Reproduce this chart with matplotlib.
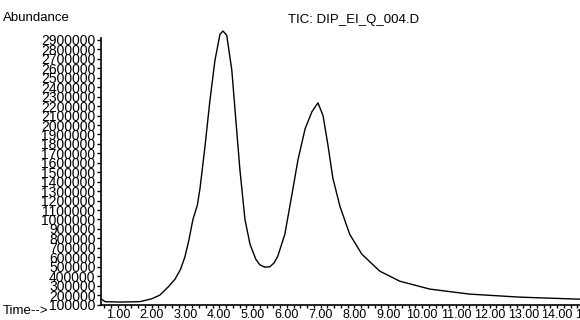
import numpy as np
import matplotlib.pyplot as plt
from matplotlib.ticker import MultipleLocator, FixedLocator

plt.rcParams['font.family'] = ['Liberation Sans', 'DejaVu Sans']

# TIC trace (time in min, abundance in counts)
time = [0.50, 0.62, 1.06, 1.65, 2.00, 2.24, 2.50, 2.69, 2.85, 2.98, 3.10, 3.22,
        3.35, 3.43, 3.57, 3.72, 3.87, 4.02, 4.11, 4.22, 4.37, 4.49, 4.61,
        4.76, 4.91, 5.08, 5.20, 5.35, 5.50, 5.62, 5.73, 5.94, 6.15, 6.33,
        6.54, 6.74, 6.92, 7.07, 7.21, 7.36, 7.57, 7.86, 8.22, 8.75, 9.34,
        10.23, 11.41, 12.89, 14.61, 15.05]
abundance = [160000, 130000, 126000, 130000, 160000, 199000, 290000, 368000,
             470000, 600000, 780000, 1000000, 1150000, 1330000, 1750000,
             2250000, 2680000, 2960000, 2995000, 2950000, 2584000, 2056000,
             1529000, 1000000, 737000, 580000, 520000, 495000, 500000,
             540000, 610000, 843000, 1265000, 1634000, 1960000, 2140000,
             2235000, 2100000, 1800000, 1440000, 1140000, 843000, 632000,
             453000, 347000, 263000, 210000, 178000, 157000, 155000]

x_ticks = np.arange(1, 16)
y_ticks = np.arange(100000, 3000000, 100000)

fig = plt.figure(figsize=(5.8, 3.2), dpi=100)
ax = fig.add_axes([101 / 580, 15.5 / 320, (591 - 101) / 580, (304.5 - 28) / 320])

ax.plot(time, abundance, color='black', lw=1.0)

ax.set_xlim(0.5, 15.0)
ax.set_ylim(100000, 3027000)

ax.xaxis.set_major_locator(FixedLocator(x_ticks))
ax.xaxis.set_minor_locator(MultipleLocator(0.2))
ax.set_xticklabels(['%.2f' % t for t in x_ticks])
ax.yaxis.set_major_locator(FixedLocator(y_ticks))
ax.set_yticklabels([str(v) for v in y_ticks])

ax.tick_params(axis='x', which='major', length=2.5, width=1, pad=0.5, labelsize=9)
ax.tick_params(axis='x', which='minor', length=2, width=1)
ax.tick_params(axis='y', length=3, width=1, pad=1, labelsize=10)
for lab in ax.get_xticklabels():
    lab.set_bbox(dict(facecolor='white', edgecolor='none', pad=0))

for s in ['top', 'right']:
    ax.spines[s].set_visible(False)
ax.spines['left'].set_bounds(100000, 2925000)
ax.spines['left'].set_linewidth(1.2)
ax.spines['bottom'].set_linewidth(1.2)

fig.text(3 / 580, 1 - 18 / 320, 'Abundance', fontsize=9.5, va='center', ha='left')
fig.text(3 / 580, 1 - 311 / 320, 'Time-->', fontsize=9.5, va='center', ha='left')
fig.text(288 / 580, 1 - 20 / 320, 'TIC: DIP_EI_Q_004.D', fontsize=9.5,
         va='center', ha='left')

fig.savefig('out.png', dpi=100)
